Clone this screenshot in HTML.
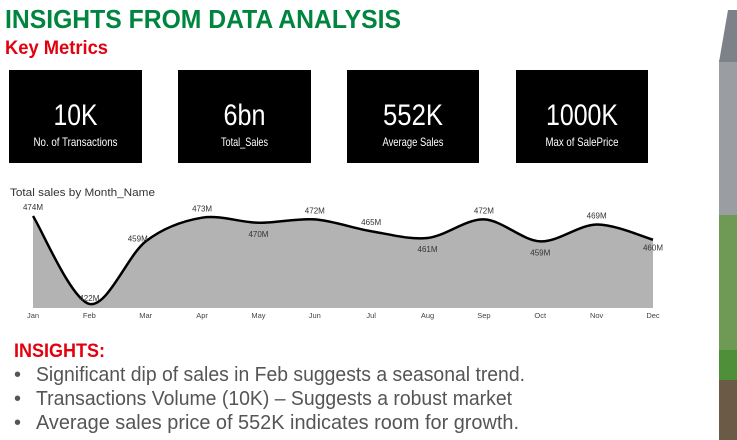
<!DOCTYPE html>
<html><head><meta charset="utf-8"><style>
body{margin:0;background:#fff;width:737px;height:440px;overflow:hidden}
svg{display:block}
text{font-family:"Liberation Sans",sans-serif}
</style></head><body>
<svg width="737" height="440" viewBox="0 0 737 440">
<text x="5" y="28" font-size="26" font-weight="bold" fill="#00853f" textLength="396" lengthAdjust="spacingAndGlyphs">INSIGHTS FROM DATA ANALYSIS</text>
<text x="5" y="54" font-size="19" font-weight="bold" fill="#e3000f" textLength="103" lengthAdjust="spacingAndGlyphs">Key Metrics</text>
<g><rect x="9" y="70" width="133" height="93" fill="#000"/>
<text x="75.5" y="125" font-size="30" fill="#fff" text-anchor="middle" textLength="44" lengthAdjust="spacingAndGlyphs">10K</text>
<text x="75.5" y="146" font-size="12" fill="#fff" text-anchor="middle" textLength="84" lengthAdjust="spacingAndGlyphs">No. of Transactions</text></g>
<g><rect x="178" y="70" width="133" height="93" fill="#000"/>
<text x="244.5" y="125" font-size="30" fill="#fff" text-anchor="middle" textLength="42" lengthAdjust="spacingAndGlyphs">6bn</text>
<text x="244.5" y="146" font-size="12" fill="#fff" text-anchor="middle" textLength="47" lengthAdjust="spacingAndGlyphs">Total_Sales</text></g>
<g><rect x="347" y="70" width="132" height="93" fill="#000"/>
<text x="413" y="125" font-size="30" fill="#fff" text-anchor="middle" textLength="60" lengthAdjust="spacingAndGlyphs">552K</text>
<text x="413" y="146" font-size="12" fill="#fff" text-anchor="middle" textLength="61" lengthAdjust="spacingAndGlyphs">Average Sales</text></g>
<g><rect x="516" y="70" width="132" height="93" fill="#000"/>
<text x="582" y="125" font-size="30" fill="#fff" text-anchor="middle" textLength="72" lengthAdjust="spacingAndGlyphs">1000K</text>
<text x="582" y="146" font-size="12" fill="#fff" text-anchor="middle" textLength="73" lengthAdjust="spacingAndGlyphs">Max of SalePrice</text></g>
<text x="10" y="196" font-size="11" fill="#333" textLength="145" lengthAdjust="spacingAndGlyphs">Total sales by Month_Name</text>
<g id="chart"></g>
<text x="14" y="357" font-size="19" font-weight="bold" fill="#e3000f" textLength="91" lengthAdjust="spacingAndGlyphs">INSIGHTS:</text>
<g font-size="20" fill="#555">
<text x="14" y="381">•</text><text x="36" y="381" textLength="489" lengthAdjust="spacingAndGlyphs">Significant dip of sales in Feb suggests a seasonal trend.</text>
<text x="14" y="405">•</text><text x="36" y="405" textLength="476" lengthAdjust="spacingAndGlyphs">Transactions  Volume (10K) – Suggests a robust market</text>
<text x="14" y="429">•</text><text x="36" y="429" textLength="483" lengthAdjust="spacingAndGlyphs">Average sales price of 552K indicates room for growth.</text>
</g>
<g>
<rect x="719" y="60" width="18" height="380" fill="#9a9ea3"/>
<polygon points="728,10 737,10 737,62 719,62" fill="#7d8288"/>
<rect x="719" y="215" width="18" height="140" fill="#6f9a55"/>
<rect x="719" y="350" width="18" height="30" fill="#4f8f3a"/>
<rect x="719" y="380" width="18" height="60" fill="#6b5a45"/>
</g>
</svg>
<script>
const months=["Jan","Feb","Mar","Apr","May","Jun","Jul","Aug","Sep","Oct","Nov","Dec"];
const sales=[474,422,459,473,470,472,465,461,472,459,469,460];
const labels=["474M","422M","459M","473M","470M","472M","465M","461M","472M","459M","469M","460M"];
const NS="http://www.w3.org/2000/svg";
const g=document.getElementById('chart');
const x0=33,x1=653,base=308,yMin=419.6,yMax=474,yTop=216;
const xs=i=>x0+i*(x1-x0)/(months.length-1);
const ys=v=>base-(v-yMin)/(yMax-yMin)*(base-yTop);
const pts=sales.map((v,i)=>[xs(i),ys(v)]);
let d=`M${pts[0][0]},${pts[0][1]}`;
for(let i=0;i<pts.length-1;i++){
 const p0=pts[Math.max(0,i-1)],p1=pts[i],p2=pts[i+1],p3=pts[Math.min(pts.length-1,i+2)];
 const t=0.16;
 const c1=[p1[0]+(p2[0]-p0[0])*t,p1[1]+(p2[1]-p0[1])*t];
 const c2=[p2[0]-(p3[0]-p1[0])*t,p2[1]-(p3[1]-p1[1])*t];
 d+=` C${c1[0]},${c1[1]} ${c2[0]},${c2[1]} ${p2[0]},${p2[1]}`;
}
const area=document.createElementNS(NS,'path');
area.setAttribute('d',d+` L${x1},${base} L${x0},${base} Z`);
area.setAttribute('fill','#b3b3b3');


g.appendChild(area);
const line=document.createElementNS(NS,'path');
line.setAttribute('d',d);line.setAttribute('fill','none');line.setAttribute('stroke','#000');line.setAttribute('stroke-width','2.5');


g.appendChild(line);
sales.forEach((v,i)=>{
 const t=document.createElementNS(NS,'text');
 const below=(i===1||i===4||i===7||i===9||i===11);
 let tx=xs(i), ty=below?ys(v)+14:ys(v)-6;
 if(i===1) ty=ys(v)-3;
 if(i===2){tx-=8;ty=ys(v)+0;}
 if(i===11){ty=ys(v)+11;}
 t.setAttribute('x',tx);t.setAttribute('y',ty);t.setAttribute('font-size','8');t.setAttribute('fill','#333');t.setAttribute('text-anchor','middle');
 t.textContent=labels[i];
 
 
 g.appendChild(t);
 const m=document.createElementNS(NS,'text');
 m.setAttribute('x',xs(i));m.setAttribute('y',318);m.setAttribute('font-size','7.5');m.setAttribute('fill','#444');m.setAttribute('text-anchor','middle');
 m.textContent=months[i];
 
 
 g.appendChild(m);
});
</script>
</body></html>
